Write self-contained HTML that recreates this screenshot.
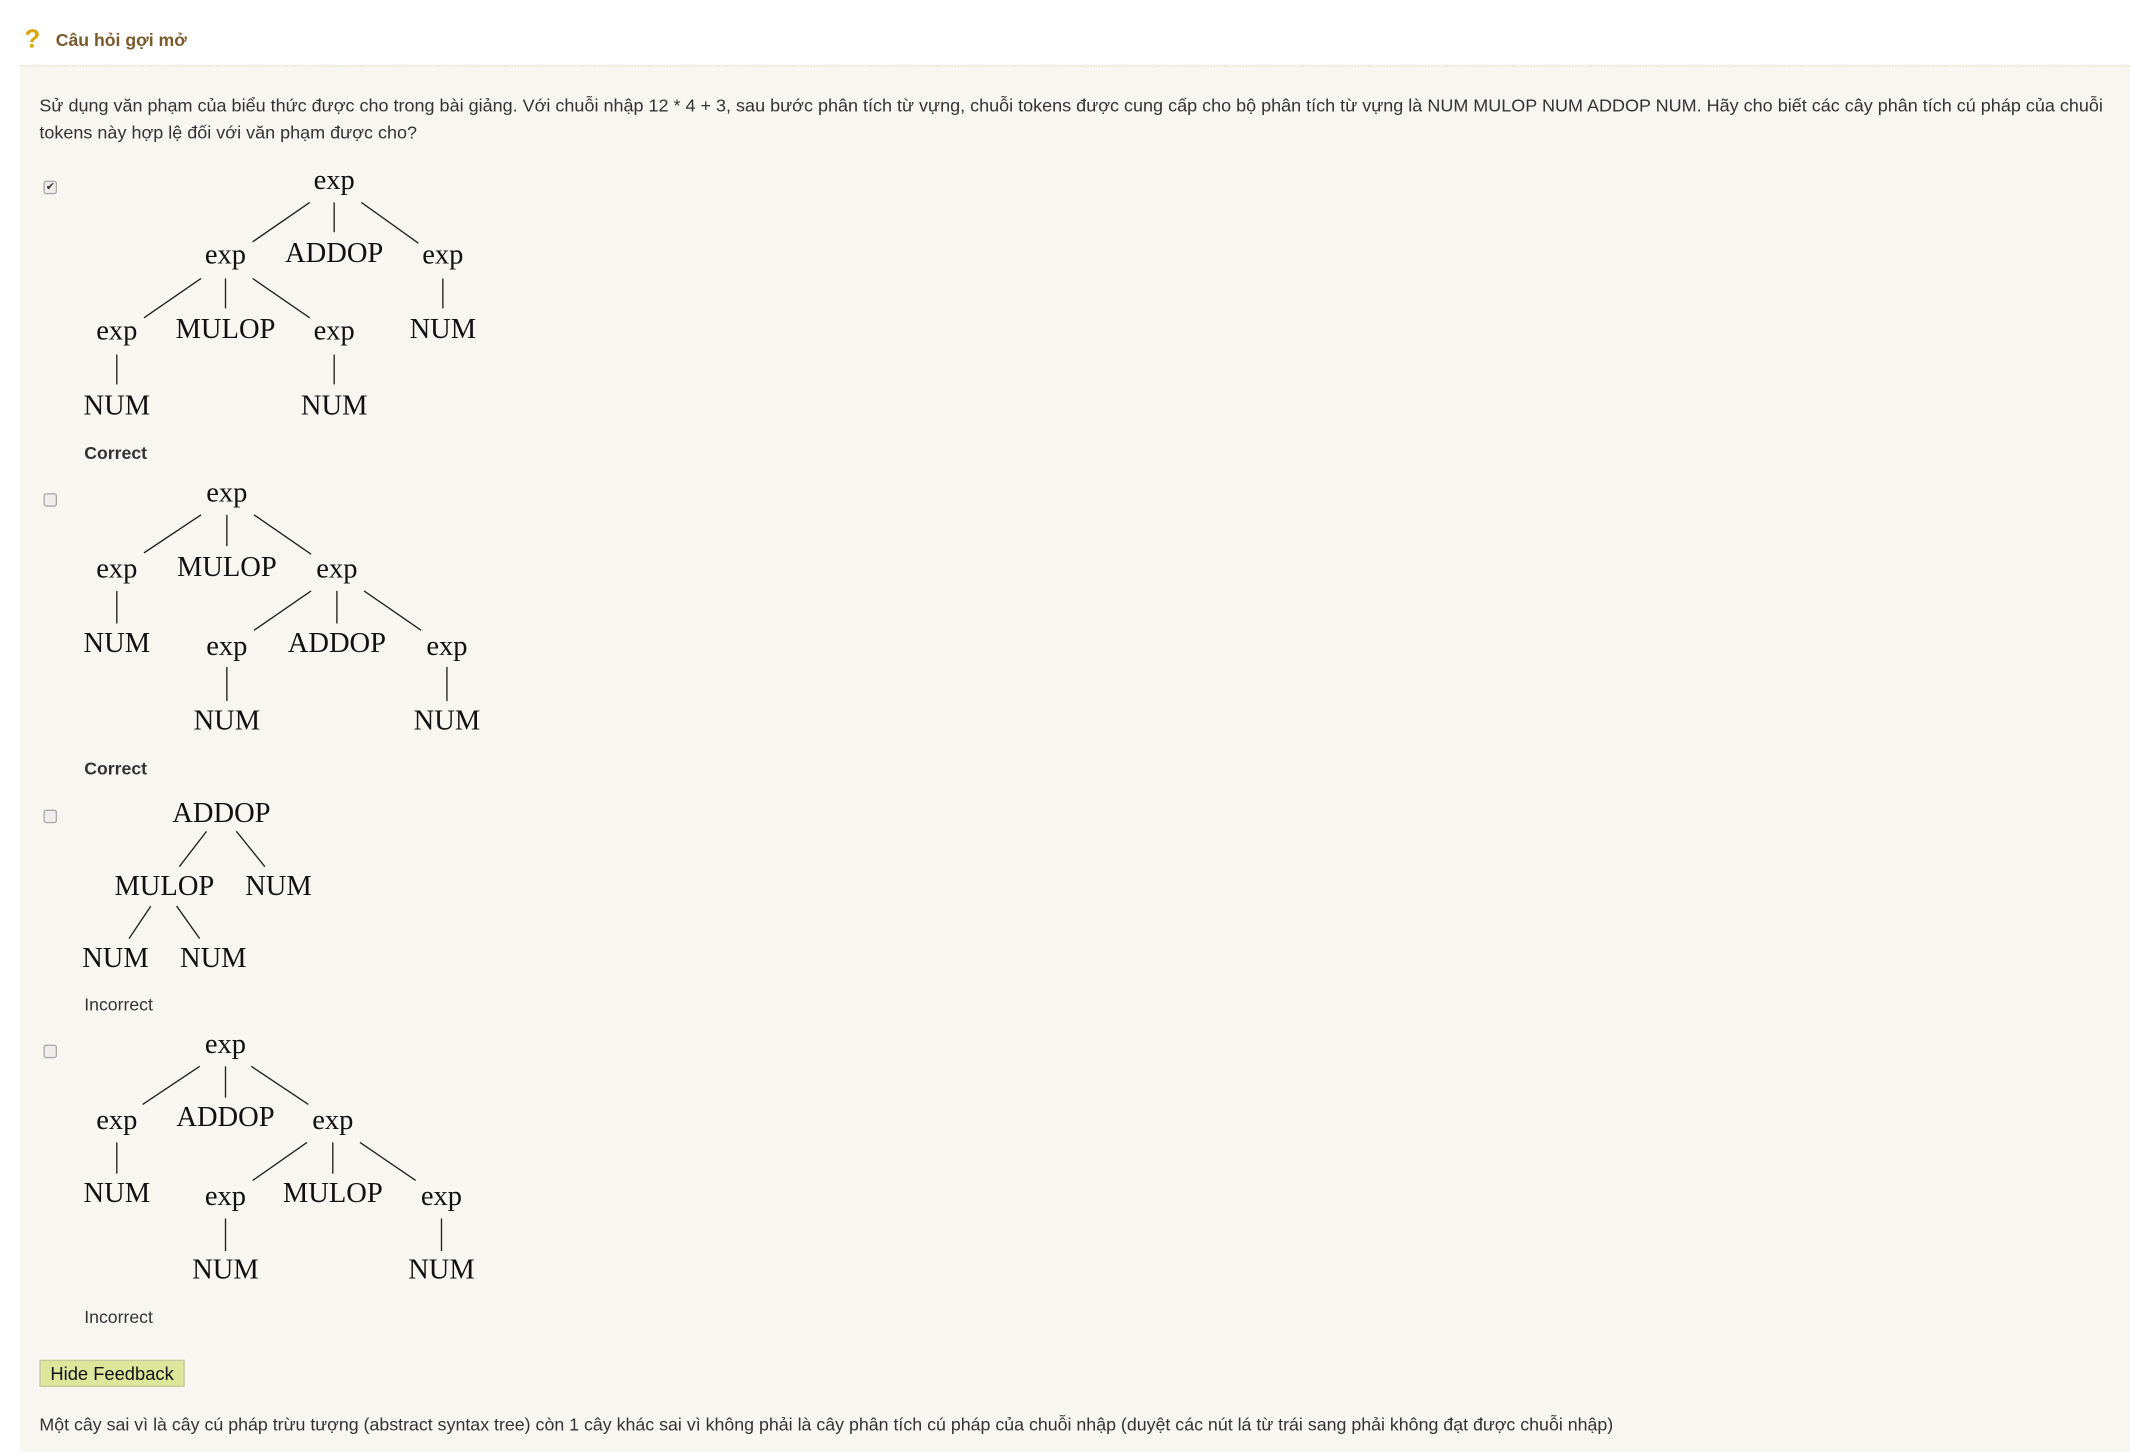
<!DOCTYPE html>
<html><head><meta charset="utf-8"><style>
html,body{margin:0;padding:0;background:#fff;}
#w{width:1568px;height:1069px;transform:scale(1.35842);transform-origin:0 0;position:relative;overflow:hidden;font-family:"Liberation Sans",sans-serif;color:#333;}
#panel{position:absolute;left:15px;top:48px;width:1553px;height:1021px;background:#f7f6f1;border-top:1px dotted #e4dfc4;}
.t{position:absolute;font-size:13px;white-space:nowrap;}
.cb{position:absolute;left:32px;width:8px;height:8px;border:1px solid #aaa;border-radius:2px;background:#eee;}
svg{position:absolute;left:0;top:0;}
svg text{font-family:"Liberation Serif",serif;font-size:21px;fill:#111;text-anchor:middle;}
svg line{stroke:#222;stroke-width:1;}
</style></head><body><div id="w">
<div id="panel"></div>
<div class="t" style="left:18px;top:19px;font-size:19px;color:#d9a800;font-weight:bold;">?</div>
<div class="t" style="left:41px;top:22px;font-weight:bold;color:#7a5a2a;">Câu hỏi gợi mở</div>
<div class="t" style="left:29px;top:68px;line-height:20px;font-size:13.25px;">Sử dụng văn phạm của biểu thức được cho trong bài giảng. Với chuỗi nhập 12 * 4 + 3, sau bước phân tích từ vựng, chuỗi tokens được cung cấp cho bộ phân tích từ vựng là NUM MULOP NUM ADDOP NUM. Hãy cho biết các cây phân tích cú pháp của chuỗi<br>tokens này hợp lệ đối với văn phạm được cho?</div>
<div class="cb" style="top:133px;font-size:8px;line-height:8px;text-align:center;">✔</div>
<div class="cb" style="top:363px;"></div>
<div class="cb" style="top:596px;"></div>
<div class="cb" style="top:769px;"></div>
<div class="t" style="left:62px;top:326px;font-weight:bold;">Correct</div>
<div class="t" style="left:62px;top:558px;font-weight:bold;">Correct</div>
<div class="t" style="left:62px;top:732px;">Incorrect</div>
<div class="t" style="left:62px;top:962px;">Incorrect</div>
<div class="t" style="left:29px;top:1001px;width:105px;height:18px;background:#dde79b;border:1px solid #c4c9a0;color:#111;font-size:13.5px;line-height:19px;text-align:center;">Hide Feedback</div>
<div class="t" style="left:29px;top:1041px;font-size:13.1px;">Một cây sai vì là cây cú pháp trừu tượng (abstract syntax tree) còn 1 cây khác sai vì không phải là cây phân tích cú pháp của chuỗi nhập (duyệt các nút lá từ trái sang phải không đạt được chuỗi nhập)</div>
<svg width="1568" height="1069">
<text x="246" y="139">exp</text>
<text x="166" y="194">exp</text><text x="246" y="193">ADDOP</text><text x="326" y="194">exp</text>
<text x="86" y="250">exp</text><text x="166" y="249">MULOP</text><text x="246" y="250">exp</text><text x="326" y="249">NUM</text>
<text x="86" y="305">NUM</text><text x="246" y="305">NUM</text>
<line x1="228" y1="149" x2="186" y2="178"/><line x1="246" y1="149" x2="246" y2="171"/><line x1="266" y1="149" x2="308" y2="179"/>
<line x1="148" y1="205" x2="106" y2="234"/><line x1="166" y1="205" x2="166" y2="227"/><line x1="186" y1="205" x2="228" y2="234"/>
<line x1="326" y1="205" x2="326" y2="227"/><line x1="86" y1="261" x2="86" y2="283"/><line x1="246" y1="261" x2="246" y2="283"/>
<text x="167" y="369">exp</text>
<text x="86" y="425">exp</text><text x="167" y="424">MULOP</text><text x="248" y="425">exp</text>
<text x="86" y="480">NUM</text><text x="167" y="482">exp</text><text x="248" y="480">ADDOP</text><text x="329" y="482">exp</text>
<text x="167" y="537">NUM</text><text x="329" y="537">NUM</text>
<line x1="148" y1="379" x2="106" y2="407"/><line x1="167" y1="379" x2="167" y2="402"/><line x1="187" y1="379" x2="229" y2="408"/>
<line x1="86" y1="435" x2="86" y2="459"/><line x1="229" y1="435" x2="187" y2="464"/><line x1="248" y1="435" x2="248" y2="459"/><line x1="268" y1="435" x2="310" y2="464"/>
<line x1="167" y1="491" x2="167" y2="516"/><line x1="329" y1="491" x2="329" y2="516"/>
<text x="163" y="605">ADDOP</text>
<text x="121" y="659">MULOP</text><text x="205" y="659">NUM</text>
<text x="85" y="712">NUM</text><text x="157" y="712">NUM</text>
<line x1="152" y1="612" x2="132" y2="638"/><line x1="174" y1="612" x2="195" y2="638"/>
<line x1="111" y1="667" x2="95" y2="691"/><line x1="130" y1="667" x2="147" y2="691"/>
<text x="166" y="775">exp</text>
<text x="86" y="831">exp</text><text x="166" y="829">ADDOP</text><text x="245" y="831">exp</text>
<text x="86" y="885">NUM</text><text x="166" y="887">exp</text><text x="245" y="885">MULOP</text><text x="325" y="887">exp</text>
<text x="166" y="941">NUM</text><text x="325" y="941">NUM</text>
<line x1="147" y1="785" x2="105" y2="813"/><line x1="166" y1="785" x2="166" y2="808"/><line x1="185" y1="785" x2="227" y2="813"/>
<line x1="86" y1="841" x2="86" y2="864"/><line x1="226" y1="841" x2="186" y2="869"/><line x1="245" y1="841" x2="245" y2="864"/><line x1="265" y1="841" x2="306" y2="869"/>
<line x1="166" y1="897" x2="166" y2="921"/><line x1="325" y1="897" x2="325" y2="921"/>
</svg>
</div></body></html>
